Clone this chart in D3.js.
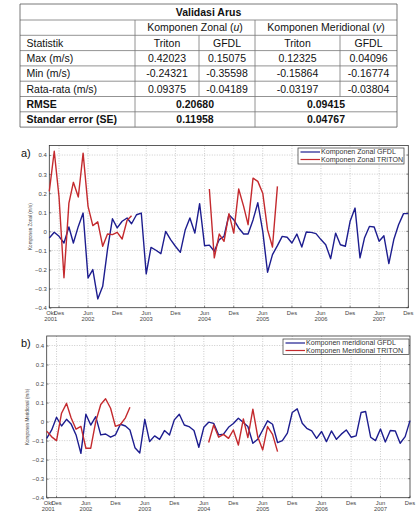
<!DOCTYPE html>
<html>
<head>
<meta charset="utf-8">
<script src="https://cdn.jsdelivr.net/npm/d3@7"></script>
<style>
  body { margin: 0; background: #fff; }
  svg { display: block; font-family: "Liberation Sans", Arial, sans-serif; }
</style>
</head>
<body>
<div id="chart"></div>
<script>
// ---- table values ----
const tableTitle = "Validasi Arus";
const statLabels = ["Max (m/s)", "Min (m/s)", "Rata-rata (m/s)"];
const zonalTriton = ["0.42023", "-0.24321", "0.09375"];
const zonalGfdl = ["0.15075", "-0.35598", "-0.04189"];
const meridTriton = ["0.12325", "-0.15864", "-0.03197"];
const meridGfdl = ["0.04096", "-0.16774", "-0.03804"];
const summaryLabels = ["RMSE", "Standar error (SE)"];
const summaryZonal = ["0.20680", "0.11958"];
const summaryMerid = ["0.09415", "0.04767"];

// ---- series, monthly from Okt 2001 to Des 2007 ----
const startMonth = new Date(2001, 9, 1);

const zonalGfdlSeries = [-0.035, -0.005, -0.026, -0.061, 0.023, -0.061, 0.026, 0.096, -0.244, -0.2,
  -0.354, -0.288, -0.096, 0.066, 0.018, 0.053, 0.07, 0.04, 0.087, 0.096,
  -0.223, -0.084, -0.099, -0.117, 0.0, -0.043, -0.078, -0.11, 0.009, 0.07,
  -0.009, 0.145, -0.075, -0.072, -0.104, -0.043, -0.026, 0.087, 0.061, 0.018,
  -0.014, -0.014, 0.06, 0.15, 0.0, -0.214, -0.122, -0.075, -0.026, -0.031,
  -0.061, -0.014, -0.082, -0.003, -0.005, -0.012, -0.043, -0.07, -0.143, -0.009,
  -0.07, -0.078, 0.053, 0.122, -0.139, -0.035, 0.026, 0.023, -0.052, -0.023,
  -0.169, -0.043, 0.035, 0.093, 0.093];

const zonalTritonSeries = [0.21, 0.42, 0.18, -0.243, 0.148, 0.257, 0.18, 0.41, 0.131, 0.03,
  0.05, -0.078, -0.014, -0.017, -0.005, -0.04, 0.058, 0.082, null, null,
  null, null, null, null, null, null, null, null, null, null,
  null, null, null, 0.222, -0.139, -0.014, -0.052, 0.093, -0.009, 0.222,
  0.131, 0.035, 0.279, 0.262, 0.2, 0.009, -0.082, 0.236, null, null,
  null, null, null, null, null, null, null, null, null, null,
  null, null, null, null, null, null, null, null, null, null,
  null, null, null, null, null];

const meridGfdlSeries = [-0.088, -0.044, 0.023, -0.023, 0.012, -0.012, -0.07, -0.167, 0.039, -0.018,
  0.026, -0.07, -0.065, -0.082, -0.07, -0.014, -0.023, -0.044, -0.137, -0.165,
  0.012, -0.105, -0.075, -0.093, -0.047, -0.07, 0.009, 0.039, -0.018, -0.026,
  -0.047, -0.135, -0.03, -0.003, -0.009, -0.07, -0.066, -0.03, -0.01, 0.018,
  -0.005, -0.026, -0.114, -0.093, -0.044, 0.004, -0.014, -0.11, -0.1, -0.061,
  0.048, 0.067, -0.009, -0.035, -0.049, -0.088, -0.052, -0.105, -0.049, -0.093,
  -0.066, -0.044, -0.082, -0.075, 0.048, 0.053, -0.082, -0.1, -0.039, -0.107,
  -0.047, -0.049, -0.114, -0.079, 0.005];

const meridTritonSeries = [-0.05, -0.08, -0.1, 0.044, 0.096, 0.02, -0.04, -0.025, -0.14, -0.14,
  0.0, 0.09, 0.12, 0.07, -0.025, -0.015, 0.02, 0.075, null, null,
  null, null, null, null, null, null, null, null, null, null,
  null, null, null, -0.11, -0.018, -0.082, -0.067, -0.088, -0.044, -0.123,
  0.014, -0.084, 0.065, -0.079, -0.149, -0.026, -0.067, -0.158, null, null,
  null, null, null, null, null, null, null, null, null, null,
  null, null, null, null, null, null, null, null, null, null,
  null, null, null, null, null];

const xTicks = ["2001-10", "2001-12", "2002-06", "2002-12", "2003-06", "2003-12", "2004-06",
  "2004-12", "2005-06", "2005-12", "2006-06", "2006-12", "2007-06", "2007-12"];
const xTickLabels = [["Okt", "2001"], ["Des"], ["Jun", "2002"], ["Des"], ["Jun", "2003"], ["Des"],
  ["Jun", "2004"], ["Des"], ["Jun", "2005"], ["Des"], ["Jun", "2006"], ["Des"], ["Jun", "2007"], ["Des"]];
const yTicks = [-0.4, -0.3, -0.2, -0.1, 0, 0.1, 0.2, 0.3, 0.4];

const blue = "#1d1d8f";
const red = "#c42a2e";

const width = 416, height = 519;

const svg = d3.select("#chart").append("svg")
  .attr("width", width)
  .attr("height", height);

// ---------------- table ----------------
const tbl = svg.append("g");
const tx = [20, 135, 199, 255, 340, 397];
const ty = [4, 20, 35.3, 50.6, 65.9, 81.2, 96.5, 111.8, 127.1];
const lineCol = "#777";

// horizontal lines
ty.forEach((y, i) => {
  tbl.append("line")
    .attr("x1", tx[0]).attr("x2", tx[5])
    .attr("y1", y).attr("y2", y)
    .attr("stroke", i === 0 || i === ty.length - 1 ? "#555" : lineCol)
    .attr("stroke-width", 0.8);
});
// outer verticals
[tx[0], tx[5]].forEach(x => {
  tbl.append("line").attr("x1", x).attr("x2", x).attr("y1", ty[0]).attr("y2", ty[8])
    .attr("stroke", "#555").attr("stroke-width", 0.8);
});
// inner verticals
[tx[1], tx[3]].forEach(x => {
  tbl.append("line").attr("x1", x).attr("x2", x).attr("y1", ty[1]).attr("y2", ty[8])
    .attr("stroke", lineCol).attr("stroke-width", 0.8);
});
[tx[2], tx[4]].forEach(x => {
  tbl.append("line").attr("x1", x).attr("x2", x).attr("y1", ty[2]).attr("y2", ty[6])
    .attr("stroke", lineCol).attr("stroke-width", 0.8);
});

function cell(text, x, row, anchor, bold) {
  return tbl.append("text")
    .attr("x", x)
    .attr("y", (ty[row] + ty[row + 1]) / 2)
    .attr("dy", "0.36em")
    .attr("text-anchor", anchor)
    .style("font-size", "10.5px")
    .style("font-weight", bold ? "bold" : "normal")
    .attr("fill", "#111")
    .text(text);
}

cell(tableTitle, (tx[0] + tx[5]) / 2, 0, "middle", true);
const hz = cell("Komponen Zonal (", (tx[1] + tx[3]) / 2, 1, "middle", false);
hz.append("tspan").style("font-style", "italic").text("u");
hz.append("tspan").text(")");
const hm = cell("Komponen Meridional (", (tx[3] + tx[5]) / 2, 1, "middle", false);
hm.append("tspan").style("font-style", "italic").text("v");
hm.append("tspan").text(")");

cell("Statistik", 26.5, 2, "start", false);
["Triton", "GFDL", "Triton", "GFDL"].forEach((t, i) => cell(t, (tx[i + 1] + tx[i + 2]) / 2, 2, "middle", false));

statLabels.forEach((lab, i) => {
  const row = 3 + i;
  cell(lab, 26.5, row, "start", false);
  [zonalTriton[i], zonalGfdl[i], meridTriton[i], meridGfdl[i]].forEach((v, j) =>
    cell(v, (tx[j + 1] + tx[j + 2]) / 2, row, "middle", false));
});

summaryLabels.forEach((lab, i) => {
  const row = 6 + i;
  cell(lab, 26.5, row, "start", true);
  cell(summaryZonal[i], (tx[1] + tx[3]) / 2, row, "middle", true);
  cell(summaryMerid[i], (tx[3] + tx[5]) / 2, row, "middle", true);
});

// ---------------- line panels ----------------
function drawPanel(p) {
  const g = svg.append("g");
  const parse = d3.timeParse("%Y-%m");

  const x = d3.scaleTime()
    .domain([parse(xTicks[0]), parse(xTicks[xTicks.length - 1])])
    .range([p.left, p.right]);
  const y = d3.scaleLinear()
    .domain([-0.4, 0.45])
    .range([p.bottom, p.top]);

  // grid
  g.selectAll(".vgrid")
    .data(xTicks.slice(1, -1))
    .enter().append("line")
    .attr("x1", d => x(parse(d))).attr("x2", d => x(parse(d)))
    .attr("y1", p.top).attr("y2", p.bottom)
    .attr("stroke", "#aaa").attr("stroke-width", 0.6)
    .attr("stroke-dasharray", "1,1.5");
  g.selectAll(".hgrid")
    .data(yTicks.slice(1))
    .enter().append("line")
    .attr("x1", p.left).attr("x2", p.right)
    .attr("y1", d => y(d)).attr("y2", d => y(d))
    .attr("stroke", "#aaa").attr("stroke-width", 0.6)
    .attr("stroke-dasharray", "1,1.5");

  // y axis
  const yAxis = d3.axisLeft(y).tickValues(yTicks).tickSize(-2).tickPadding(2.5)
    .tickFormat(d => d === 0 ? "0" : d3.format(".1f")(d));
  const ya = g.append("g").attr("transform", `translate(${p.left},0)`).call(yAxis);
  ya.select(".domain").remove();
  ya.selectAll("line").attr("stroke", "#444").attr("stroke-width", 0.6);
  ya.selectAll("text").style("font-size", "6px").attr("fill", "#444");

  // right ticks
  g.selectAll(".rtick")
    .data(yTicks)
    .enter().append("line")
    .attr("x1", p.right).attr("x2", p.right - 2)
    .attr("y1", d => y(d)).attr("y2", d => y(d))
    .attr("stroke", "#444").attr("stroke-width", 0.6);

  // x ticks and labels
  const xa = g.append("g");
  xTicks.forEach((t, i) => {
    const px = x(parse(t));
    xa.append("line")
      .attr("x1", px).attr("x2", px)
      .attr("y1", p.bottom).attr("y2", p.bottom - 2)
      .attr("stroke", "#444").attr("stroke-width", 0.6);
    xTickLabels[i].forEach((s, k) => {
      xa.append("text")
        .attr("x", px + (i === 0 ? 1.5 : 0))
        .attr("y", p.bottom + 7 + k * 6.5)
        .attr("text-anchor", "middle")
        .style("font-size", "5.8px")
        .attr("fill", "#444")
        .text(s);
    });
  });

  // box
  g.append("rect")
    .attr("x", p.left).attr("y", p.top)
    .attr("width", p.right - p.left).attr("height", p.bottom - p.top)
    .attr("fill", "none")
    .attr("stroke", "#333").attr("stroke-width", 0.8);

  // lines
  const line = d3.line()
    .defined(d => d != null)
    .x((d, i) => x(d3.timeMonth.offset(startMonth, i)))
    .y(d => y(d));

  g.append("path")
    .attr("d", line(p.gfdl))
    .attr("fill", "none")
    .attr("stroke", blue)
    .attr("stroke-width", 1.4)
    .attr("stroke-linejoin", "round");
  g.append("path")
    .attr("d", line(p.triton))
    .attr("fill", "none")
    .attr("stroke", red)
    .attr("stroke-width", 1.4)
    .attr("stroke-linejoin", "round");

  // legend
  const lg = g.append("g");
  lg.append("rect")
    .attr("x", p.legend[0]).attr("y", p.legend[1])
    .attr("width", p.legend[2]).attr("height", p.legend[3])
    .attr("fill", "#fff").attr("stroke", "#333").attr("stroke-width", 0.7);
  [[p.legendText[0], blue], [p.legendText[1], red]].forEach((e, i) => {
    const ly = p.legend[1] + 4 + i * 7.5;
    lg.append("line")
      .attr("x1", p.legend[0] + 2.5).attr("x2", p.legend[0] + 22)
      .attr("y1", ly).attr("y2", ly)
      .attr("stroke", e[1]).attr("stroke-width", 1.2);
    lg.append("text")
      .attr("x", p.legend[0] + 23)
      .attr("y", ly)
      .attr("dy", "0.35em")
      .style("font-size", "7.1px")
      .attr("fill", "#333")
      .text(e[0]);
  });

  // y title
  g.append("text")
    .attr("transform", `translate(${p.titleX},${(p.top + p.bottom) / 2}) rotate(-90)`)
    .attr("text-anchor", "middle")
    .style("font-size", "4.6px")
    .attr("fill", "#444")
    .text(p.yTitle);

  // panel letter
  g.append("text")
    .attr("x", 21)
    .attr("y", p.letterY)
    .style("font-size", "11px")
    .attr("fill", "#111")
    .text(p.letter);
}

drawPanel({
  left: 49.3, right: 408.3, top: 145.5, bottom: 307.7,
  gfdl: zonalGfdlSeries, triton: zonalTritonSeries,
  legend: [298, 148, 106, 16],
  legendText: ["Komponen Zonal GFDL", "Komponen Zonal TRITON"],
  yTitle: "Komponen Zonal (m/s)", titleX: 32,
  letter: "a)", letterY: 157
});

drawPanel({
  left: 46.7, right: 410, top: 336, bottom: 497.7,
  gfdl: meridGfdlSeries, triton: meridTritonSeries,
  legend: [283, 339, 126, 15.5],
  legendText: ["Komponen meridional GFDL", "Komponen Meridional TRITON"],
  yTitle: "Komponen Meridional (m/s)", titleX: 29,
  letter: "b)", letterY: 347
});
</script>
</body>
</html>
